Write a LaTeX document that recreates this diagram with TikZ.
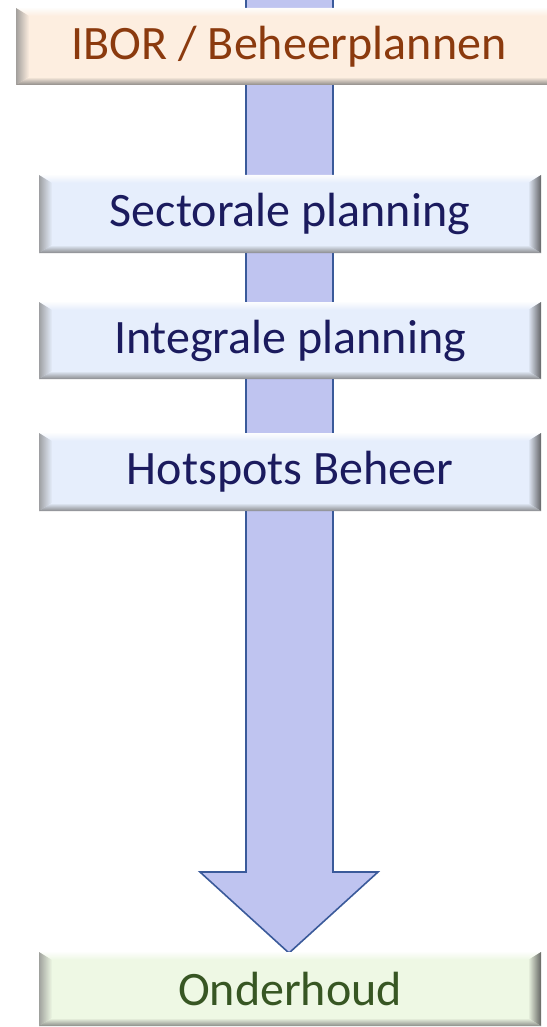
\documentclass[tikz,border=0pt]{standalone}
\usepackage{fontspec}
\setmainfont{Carlito}
\definecolor{arrowfill}{HTML}{BFC4F0}
\definecolor{arrowline}{HTML}{3A5A9A}
\definecolor{peach}{HTML}{FDEEE0}
\definecolor{brownt}{HTML}{8B3A0E}
\definecolor{paleblue}{HTML}{E6EEFC}
\definecolor{navyt}{HTML}{1B1B5E}
\definecolor{palegreen}{HTML}{EEF8E4}
\definecolor{greent}{HTML}{375623}
\tikzset{
  bevelbox/.style={
    fill=#1, inner sep=0pt, font=\fontsize{48}{57}\selectfont,
    path picture={
      \coordinate (nw) at (path picture bounding box.north west);
      \coordinate (ne) at (path picture bounding box.north east);
      \coordinate (sw) at (path picture bounding box.south west);
      \coordinate (se) at (path picture bounding box.south east);
      \shade[top color=white, bottom color=#1, opacity=0.9]
        (nw) -- (ne) -- ([xshift=-13pt,yshift=-8pt]ne) -- ([xshift=13pt,yshift=-8pt]nw) -- cycle;
      \shade[left color=black!45, right color=#1, opacity=0.8]
        (nw) -- ([xshift=13pt,yshift=-8pt]nw) -- ([xshift=13pt,yshift=8pt]sw) -- (sw) -- cycle;
      \shade[left color=#1, right color=black!70, opacity=0.85]
        (ne) -- ([xshift=-13pt,yshift=-8pt]ne) -- ([xshift=-13pt,yshift=8pt]se) -- (se) -- cycle;
      \shade[top color=#1, bottom color=black!55, opacity=0.8]
        (sw) -- ([xshift=13pt,yshift=8pt]sw) -- ([xshift=-13pt,yshift=8pt]se) -- (se) -- cycle;
    }},
  arrowshape/.style={fill=arrowfill, draw=arrowline, line width=1.6pt, line join=miter}
}
\begin{document}
\begin{tikzpicture}[x=1pt,y=1pt]
\useasboundingbox (0,0) rectangle (546,-1027);
% big down arrow
\draw[arrowshape] (246,5) -- (333,5) -- (333,-872) -- (378,-872) -- (289,-953) -- (200,-872) -- (246,-872) -- cycle;
% boxes
\node[bevelbox=peach, minimum width=546pt, minimum height=77pt, text=brownt] (ibor) at (289,-46.5) {IBOR / Beheerplannen};
\node[bevelbox=paleblue, minimum width=502pt, minimum height=78pt, text=navyt] (sect) at (290,-214) {Sectorale planning};
\node[bevelbox=paleblue, minimum width=502pt, minimum height=77pt, text=navyt] (integ) at (290,-340.5) {Integrale planning};
\node[bevelbox=paleblue, minimum width=502pt, minimum height=78pt, text=navyt] (hot) at (290,-472) {Hotspots Beheer};
\node[bevelbox=palegreen, minimum width=502pt, minimum height=74pt, text=greent] (ond) at (290,-989) {Onderhoud};
\end{tikzpicture}
\end{document}
